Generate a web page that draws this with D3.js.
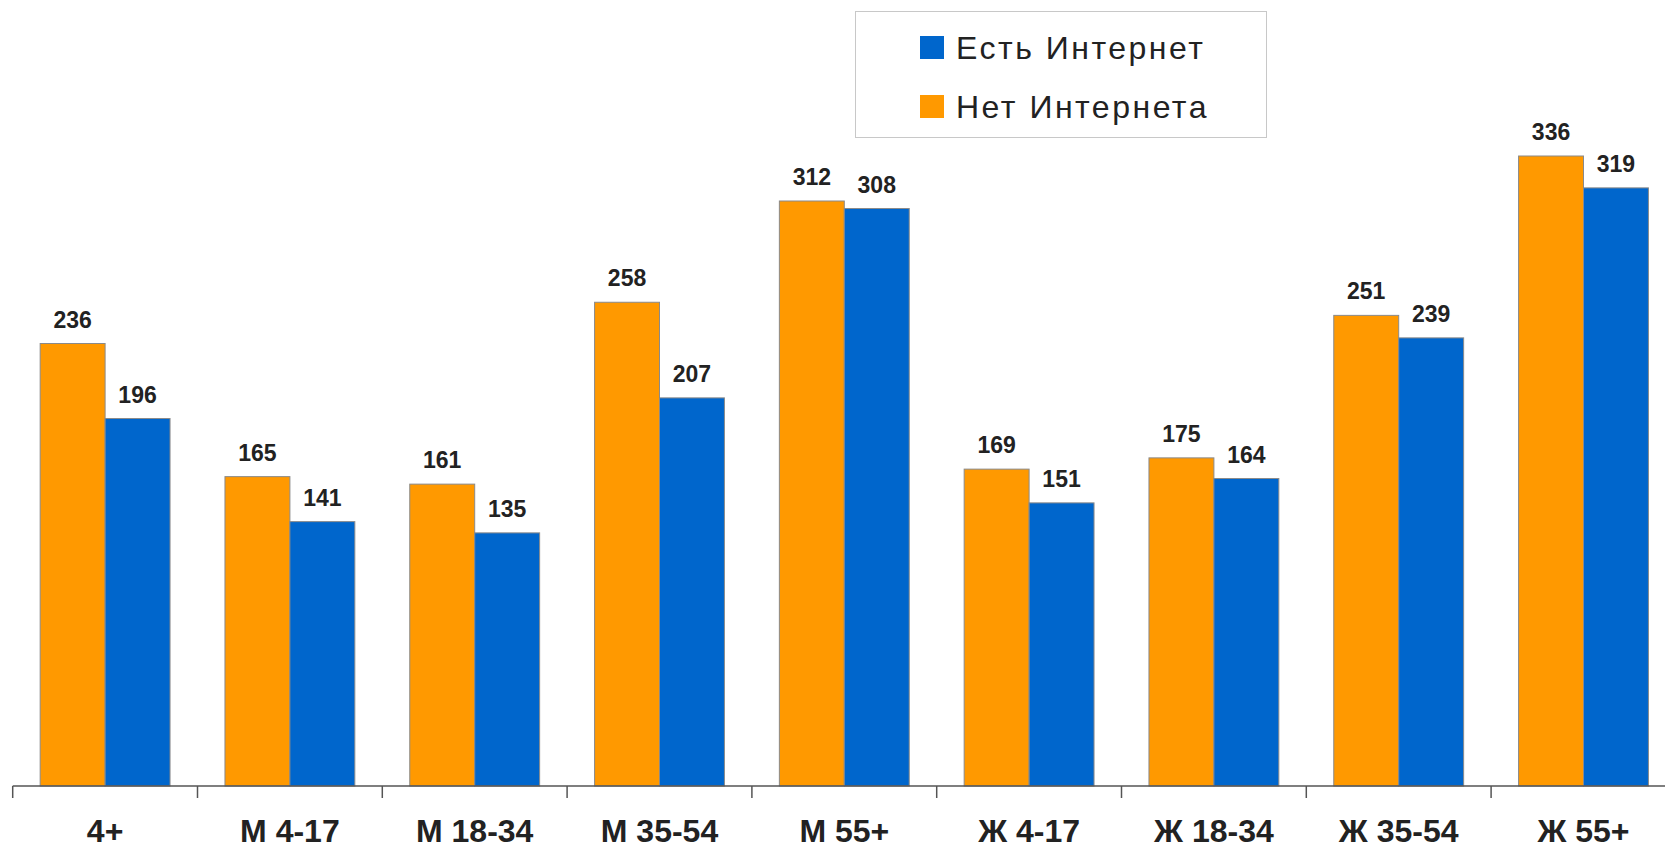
<!DOCTYPE html>
<html>
<head>
<meta charset="utf-8">
<script src="https://cdn.jsdelivr.net/npm/d3@7"></script>
<style>
  body { margin: 0; background: #fff; }
  svg { display: block; font-family: "Liberation Sans", Arial, sans-serif; }
</style>
</head>
<body>
<svg id="chart" width="1665" height="849"></svg>
<script>
// data
var categories = ["4+", "М 4-17", "М 18-34", "М 35-54", "М 55+", "Ж 4-17", "Ж 18-34", "Ж 35-54", "Ж 55+"];
var seriesNames = ["Нет Интернета", "Есть Интернет"];
var noInternet = [236, 165, 161, 258, 312, 169, 175, 251, 336];
var withInternet = [196, 141, 135, 207, 308, 151, 164, 239, 319];
var colors = ["#FF9900", "#0066CC"];

var rows = categories.map(function(c, i) {
  return {cat: c, values: [noInternet[i], withInternet[i]]};
});

var svg = d3.select("#chart");

// category scale runs a little past the right edge, as in the original
var x = d3.scaleBand()
  .domain(categories)
  .range([12.7, 12.7 + 184.8 * categories.length])
  .paddingInner(0).paddingOuter(0);

var x1 = d3.scaleBand()
  .domain([0, 1])
  .range([0, x.bandwidth()])
  .paddingInner(0)
  .paddingOuter(0.423);

var y = d3.scaleLinear()
  .domain([0, 400])
  .range([786, 36]);

// bars
var groups = svg.append("g")
  .selectAll("g")
  .data(rows)
  .enter()
  .append("g")
  .attr("transform", function(d) { return "translate(" + x(d.cat) + ",0)"; });

groups.selectAll("rect")
  .data(function(d) { return d.values; })
  .enter()
  .append("rect")
  .attr("x", function(d, i) { return x1(i); })
  .attr("y", function(d) { return y(d); })
  .attr("width", x1.bandwidth())
  .attr("height", function(d) { return y(0) - y(d); })
  .attr("fill", function(d, i) { return colors[i]; })
  .attr("stroke", "#8a8a8a")
  .attr("stroke-width", 1);

// value labels
groups.selectAll("text")
  .data(function(d) { return d.values; })
  .enter()
  .append("text")
  .attr("x", function(d, i) { return x1(i) + x1.bandwidth() / 2; })
  .attr("y", function(d) { return y(d) - 16; })
  .attr("text-anchor", "middle")
  .attr("font-size", "23px")
  .attr("font-weight", "bold")
  .attr("fill", "#222")
  .text(function(d) { return d; });

// x axis
var xAxis = svg.append("g")
  .attr("class", "xAxis")
  .attr("transform", "translate(0," + y(0) + ")")
  .call(d3.axisBottom(x).tickSize(0).tickPadding(0).tickFormat(""));

xAxis.select(".domain")
  .attr("d", "M" + x.range()[0] + ",0H" + x.range()[1])
  .attr("stroke", "#555")
  .attr("stroke-width", 1.5);

// boundary ticks between categories
xAxis.selectAll(".sep")
  .data(categories)
  .enter()
  .append("line")
  .attr("class", "sep")
  .attr("x1", function(d) { return x(d); })
  .attr("x2", function(d) { return x(d); })
  .attr("y1", 0)
  .attr("y2", 12)
  .attr("stroke", "#555")
  .attr("stroke-width", 1.5);

// category labels
xAxis.selectAll(".catLabel")
  .data(categories)
  .enter()
  .append("text")
  .attr("class", "catLabel")
  .attr("x", function(d) { return x(d) + x.bandwidth() / 2; })
  .attr("y", 56)
  .attr("text-anchor", "middle")
  .attr("font-size", "32px")
  .attr("font-weight", "bold")
  .attr("fill", "#222")
  .text(function(d) { return d; });

// legend
var legend = svg.append("g").attr("class", "legend");

legend.append("rect")
  .attr("x", 855.5)
  .attr("y", 11.5)
  .attr("width", 411)
  .attr("height", 126)
  .attr("fill", "#fff")
  .attr("stroke", "#c8c8c8");

var legendItems = [1, 0];
legendItems.forEach(function(s, i) {
  legend.append("rect")
    .attr("x", 920)
    .attr("y", 36 + i * 59)
    .attr("width", 24)
    .attr("height", 23)
    .attr("fill", colors[s]);
  legend.append("text")
    .attr("x", 956)
    .attr("y", 59 + i * 59)
    .attr("font-size", "32px")
    .attr("letter-spacing", "2.5px")
    .attr("fill", "#222")
    .text(seriesNames[s]);
});
</script>
</body>
</html>
